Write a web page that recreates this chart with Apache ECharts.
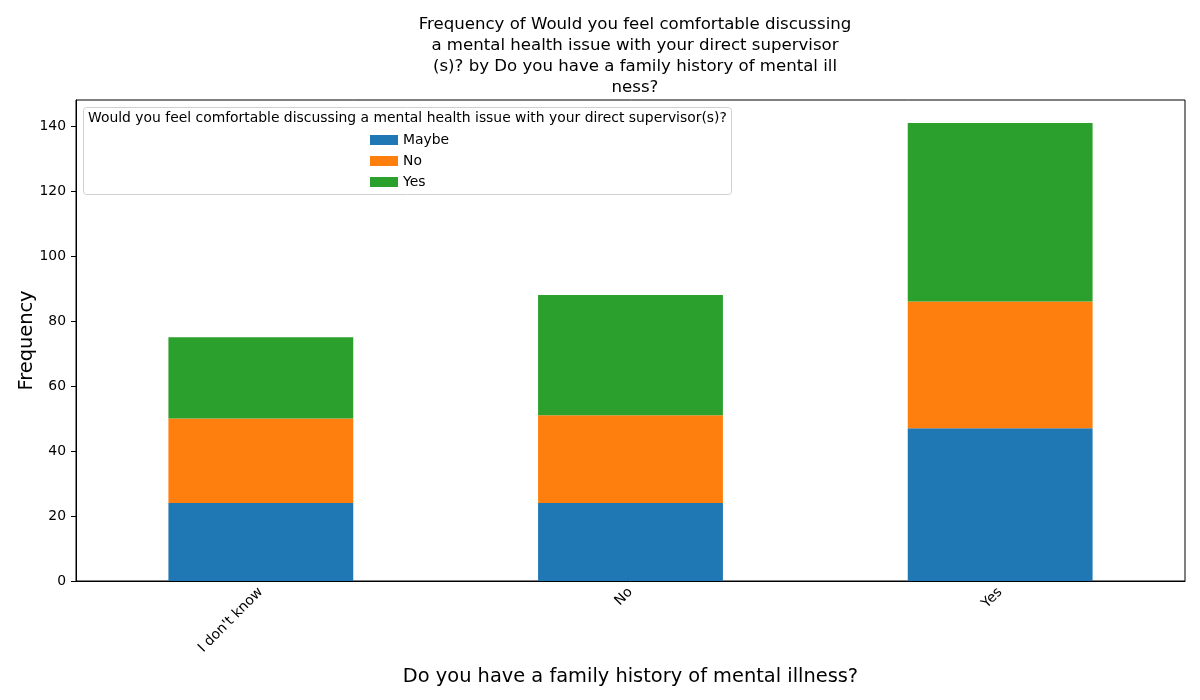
<!DOCTYPE html>
<html><head><meta charset="utf-8">
<script src="https://cdn.jsdelivr.net/npm/echarts@6/dist/echarts.min.js"></script>
<style>html,body{margin:0;padding:0;background:#fff}#c{width:1200px;height:700px}</style>
</head><body><div id="c"></div>
<script>
const categories = ["I don't know", "No", "Yes"];
const maybeVals = [24, 24, 47];
const noVals = [26, 27, 39];
const yesVals = [25, 37, 55];
const seriesNames = ["Maybe", "No", "Yes"];
const yTicks = [0, 20, 40, 60, 80, 100, 120, 140];
const colors = ["#1f77b4", "#ff7f0e", "#2ca02c"];
const font = "DejaVu Sans";

const chart = echarts.init(document.getElementById('c'));
const dataSets = [maybeVals, noVals, yesVals];
chart.setOption({
  animation: false,
  textStyle: {fontFamily: font},
  title: {
    text: "Frequency of Would you feel comfortable discussing\na mental health issue with your direct supervisor\n(s)? by Do you have a family history of mental ill\nness?",
    left: 630, top: 9, textAlign: 'center',
    textStyle: {fontFamily: font, fontSize: 16.6, fontWeight: 'normal', color: '#000', lineHeight: 21}
  },
  grid: {left: 76, right: 15, top: 100, bottom: 119, show: true, borderColor: '#000', borderWidth: 1, backgroundColor: 'transparent'},
  legend: {
    orient: 'vertical', left: 365, top: 128, itemWidth: 28, itemHeight: 10, itemGap: 7,
    z: 20,
    textStyle: {fontFamily: font, fontSize: 13.9, color: '#000'},
    data: seriesNames.map(n => ({name: n, icon: 'rect'}))
  },
  graphic: [
    {type: 'rect', shape: {x: 83.5, y: 107.5, width: 648, height: 87, r: 3}, style: {fill: 'rgba(255,255,255,0.8)', stroke: '#d0d0d0', lineWidth: 1}, z: 5},
    {type: 'text', left: 88, top: 111, style: {text: "Would you feel comfortable discussing a mental health issue with your direct supervisor(s)?", font: '13.9px "DejaVu Sans"', fill: '#000'}, z: 6}
  ],
  xAxis: {
    type: 'category', data: categories,
    name: "Do you have a family history of mental illness?", nameLocation: 'middle', nameGap: 86,
    nameMoveOverlap: false,
    nameTextStyle: {fontFamily: font, fontSize: 19.4, color: '#000'},
    axisLine: {lineStyle: {color: '#000'}},
    axisTick: {alignWithLabel: true, length: 5, lineStyle: {color: '#000'}},
    axisLabel: {rotate: 45, fontSize: 13.9, color: '#000', fontFamily: font, margin: 9}
  },
  yAxis: {
    type: 'value', min: 0, max: 148.05, interval: 20,
    name: "Frequency", nameLocation: 'middle', nameGap: 40,
    nameMoveOverlap: false,
    nameTextStyle: {fontFamily: font, fontSize: 19.4, color: '#000'},
    axisLine: {show: true, lineStyle: {color: '#000'}},
    axisTick: {show: true, length: 5, lineStyle: {color: '#000'}, customValues: yTicks},
    splitLine: {show: false},
    axisLabel: {fontSize: 13.9, color: '#000', fontFamily: font, margin: 10, customValues: yTicks},
  },
  series: seriesNames.map((n, i) => ({
    name: n, type: 'bar', stack: 'total', data: dataSets[i], barWidth: '50%',
    itemStyle: {color: colors[i]}, z: 2
  }))
});
</script></body></html>
